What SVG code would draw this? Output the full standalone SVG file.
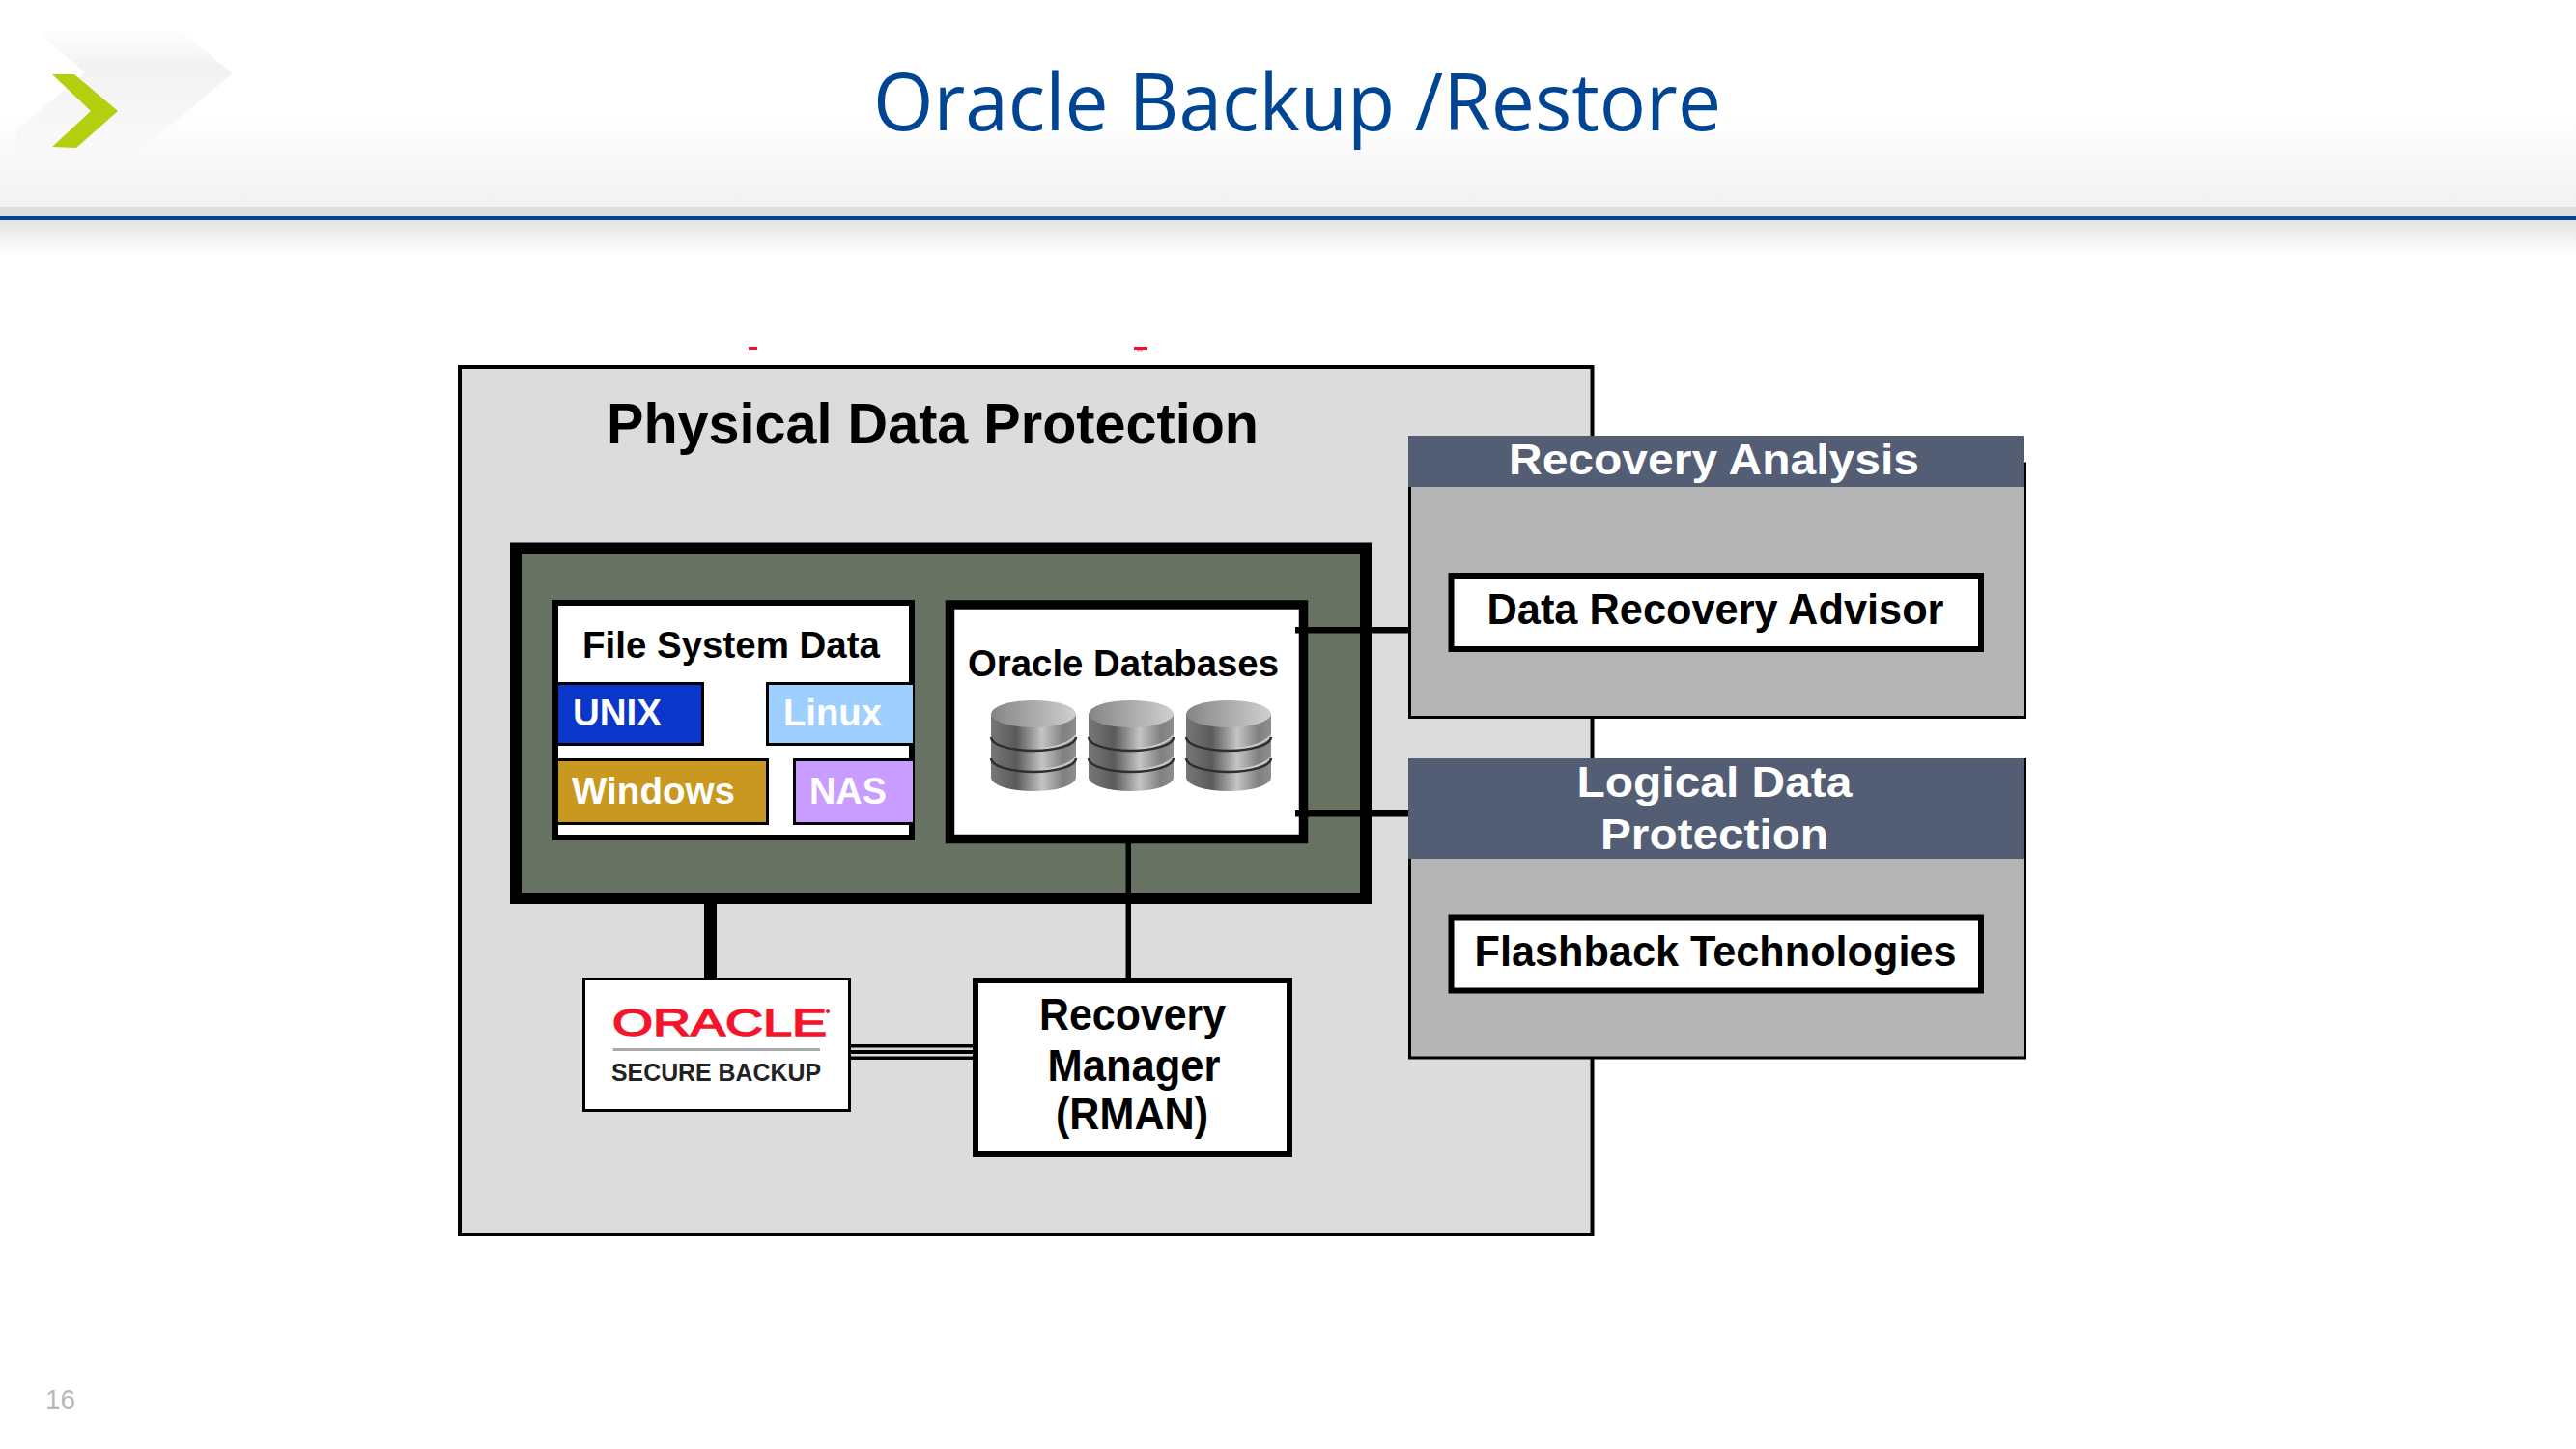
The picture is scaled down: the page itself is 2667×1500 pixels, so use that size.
<svg xmlns="http://www.w3.org/2000/svg" width="2667" height="1500" viewBox="0 0 2667 1500">
<style>
text{font-family:"Liberation Sans",Arial,sans-serif;font-weight:700;fill:#000}
.w{fill:#fff}
.t37{font-size:39px}
.t41{font-size:44px}
.t43{font-size:46px}
.k{stroke:#000;fill:#fff}
.head{fill:#535e75}
.body{fill:#b5b5b5;stroke:#000;stroke-width:3}
.groove{fill:none;stroke:#2e2e2e;stroke-width:2.5}
.glow{fill:none;stroke:#c8c8c8;stroke-width:2}
</style>
<defs>
<linearGradient id="hdr" x1="0" y1="0" x2="0" y2="1"><stop offset="0" stop-color="#fff"/><stop offset="1" stop-color="#f2f2f2"/></linearGradient>
<linearGradient id="shd" x1="0" y1="0" x2="0" y2="1"><stop offset="0" stop-color="#e4e4e4"/><stop offset="1" stop-color="#fff"/></linearGradient>
<linearGradient id="chev" x1="0" y1="0" x2="0" y2="1"><stop offset="0" stop-color="#f2f2f2" stop-opacity="0"/><stop offset="0.25" stop-color="#f2f2f2"/><stop offset="0.55" stop-color="#f6f6f6"/><stop offset="1" stop-color="#f7f7f7" stop-opacity="0"/></linearGradient>
<linearGradient id="cylB" x1="0" y1="0" x2="1" y2="0"><stop offset="0" stop-color="#777"/><stop offset="0.3" stop-color="#5a5a5a"/><stop offset="0.6" stop-color="#c4c4c4"/><stop offset="0.85" stop-color="#808080"/><stop offset="1" stop-color="#8e8e8e"/></linearGradient>
<linearGradient id="cylT" x1="0" y1="0" x2="1" y2="0"><stop offset="0" stop-color="#858585"/><stop offset="1" stop-color="#d0d0d0"/></linearGradient>
<g id="cyl">
<path d="M0 14V80A44 14 0 0 0 88 80V14Z" fill="url(#cylB)"/>
<ellipse cx="44" cy="14" rx="44" ry="14" fill="url(#cylT)"/>
<path class="glow" d="M50 50Q78 48 88 36M50 72Q78 70 88 59"/>
<path class="groove" d="M0 38A44 14 0 0 0 88 38"/>
<path class="groove" d="M0 60A44 14 0 0 0 88 60"/>
</g>
</defs>

<g id="slide-header">
<rect x="0" y="115" width="2667" height="99" fill="url(#hdr)"/>
<rect x="0" y="214" width="2667" height="10" fill="#dedede"/>
<rect x="0" y="228" width="2667" height="37" fill="url(#shd)"/>
<polygon points="33,28 187,32 241,76 113,183 17,187 17,135 88,75" fill="url(#chev)"/>
<rect x="0" y="224" width="2667" height="4" fill="#004494"/>
<polygon points="54,77 77,77 122,115 79,153 54,152 94,115" fill="#b3cf0f"/>
<text x="904" y="135" font-size="82" textLength="878" lengthAdjust="spacingAndGlyphs" style="font-family:'Open Sans',sans-serif;font-weight:400;fill:#004494">Oracle Backup /Restore</text>
</g>

<g id="page-number"><text x="47" y="1459" font-size="30" textLength="31" lengthAdjust="spacingAndGlyphs" style="font-family:'Liberation Sans',sans-serif;font-weight:400;fill:#b8b8b8">16</text></g>

<g id="crop-marks"><rect x="775" y="359" width="9" height="3" fill="#f01030"/><rect x="1174" y="359" width="14" height="3" fill="#f01030"/><rect x="1177" y="362" width="6" height="1.500" fill="#f8a0a8"/></g>

<g id="physical-data-protection">
<rect x="476" y="380" width="1172.500" height="898" fill="#dcdcdc" stroke="#000" stroke-width="4"/>
<text x="628" y="459" font-size="60" textLength="675" lengthAdjust="spacingAndGlyphs">Physical Data Protection</text>
</g>

<g id="storage-frame"><rect x="534" y="567.500" width="880" height="362.500" fill="#687263" stroke="#000" stroke-width="12"/></g>

<g id="connectors">
<rect x="729" y="936" width="13" height="76" fill="#000"/>
<rect x="1165.500" y="873" width="5.500" height="139" fill="#000"/>
<rect x="1341" y="649" width="118" height="6.500" fill="#000"/>
<rect x="1341" y="839" width="118" height="6.500" fill="#000"/>
<rect x="881" y="1081" width="126" height="16" fill="#000"/>
<rect x="881" y="1084.500" width="126" height="2.500" fill="#d8d8d8"/>
<rect x="881" y="1091" width="126" height="2.500" fill="#d8d8d8"/>
</g>

<g id="file-system-data">
<rect class="k" x="575" y="624" width="369" height="243" stroke-width="6"/>
<text class="t37" x="603" y="681" textLength="308" lengthAdjust="spacingAndGlyphs">File System Data</text>
</g>
<g id="unix"><rect x="576.500" y="707.500" width="151" height="63" fill="#0a36c9" stroke="#000" stroke-width="3"/><text class="t37 w" x="593" y="751" textLength="92" lengthAdjust="spacingAndGlyphs">UNIX</text></g>
<g id="linux"><path d="M945 707.500H794.500V770.500H945Z" fill="#9ecfff"/><path d="M945 707.500H794.500V770.500H945" fill="none" stroke="#000" stroke-width="3"/><text class="t37 w" x="811" y="751" textLength="102" lengthAdjust="spacingAndGlyphs">Linux</text></g>
<g id="windows"><rect x="576.500" y="786.500" width="218" height="66" fill="#c89820" stroke="#000" stroke-width="3"/><text class="t37 w" x="592" y="832" textLength="169" lengthAdjust="spacingAndGlyphs">Windows</text></g>
<g id="nas"><path d="M945 786.500H822.500V852.500H945Z" fill="#c99cff"/><path d="M945 786.500H822.500V852.500H945" fill="none" stroke="#000" stroke-width="3"/><text class="t37 w" x="838" y="832" textLength="80" lengthAdjust="spacingAndGlyphs">NAS</text></g>

<g id="oracle-databases">
<rect class="k" x="983.500" y="626" width="366" height="242.500" stroke-width="9.500"/>
<text class="t37" x="1002" y="700" textLength="322" lengthAdjust="spacingAndGlyphs">Oracle Databases</text>
<use href="#cyl" x="1026" y="725"/><use href="#cyl" x="1127" y="725"/><use href="#cyl" x="1228" y="725"/>
<rect x="1341" y="649" width="13" height="6.500" fill="#000"/>
<rect x="1341" y="839" width="13" height="6.500" fill="#000"/>
</g>

<g id="oracle-secure-backup">
<rect class="k" x="604.500" y="1013.500" width="275" height="136" stroke-width="3"/>
<text x="634" y="1072" font-size="39" textLength="222" lengthAdjust="spacingAndGlyphs" style="font-weight:400;fill:#f5142a;stroke:#f5142a;stroke-width:1.500">ORACLE</text>
<circle cx="857" cy="1047" r="2" fill="#f5142a"/>
<rect x="634.500" y="1085" width="214.500" height="3" fill="#aaa"/>
<text x="633" y="1119" font-size="26" textLength="217" lengthAdjust="spacingAndGlyphs" style="fill:#222">SECURE BACKUP</text>
</g>

<g id="rman">
<rect class="k" x="1010" y="1015" width="325" height="180" stroke-width="6"/>
<text class="t43" x="1076" y="1066" textLength="193" lengthAdjust="spacingAndGlyphs">Recovery</text>
<text class="t43" x="1084.500" y="1119" textLength="179" lengthAdjust="spacingAndGlyphs">Manager</text>
<text class="t43" x="1093" y="1169" textLength="158" lengthAdjust="spacingAndGlyphs">(RMAN)</text>
</g>

<g id="recovery-analysis">
<rect class="body" x="1459.500" y="480" width="637" height="262.500"/>
<rect class="head" x="1458" y="451" width="637" height="53"/>
<text class="t41 w" x="1562" y="491" textLength="425" lengthAdjust="spacingAndGlyphs">Recovery Analysis</text>
</g>
<g id="data-recovery-advisor">
<rect class="k" x="1502.500" y="596" width="548.500" height="76" stroke-width="6"/>
<text class="t41" x="1539.500" y="646" textLength="473" lengthAdjust="spacingAndGlyphs">Data Recovery Advisor</text>
</g>

<g id="logical-data-protection">
<rect class="body" x="1459.500" y="786.500" width="637" height="308.500"/>
<rect class="head" x="1458" y="785" width="637" height="104"/>
<text class="t41 w" x="1632.500" y="825" textLength="285" lengthAdjust="spacingAndGlyphs">Logical Data</text>
<text class="t41 w" x="1657" y="879" textLength="236" lengthAdjust="spacingAndGlyphs">Protection</text>
</g>
<g id="flashback-technologies">
<rect class="k" x="1502.500" y="949.500" width="548.500" height="76" stroke-width="6"/>
<text class="t41" x="1526.500" y="1000" textLength="499" lengthAdjust="spacingAndGlyphs">Flashback Technologies</text>
</g>
</svg>
